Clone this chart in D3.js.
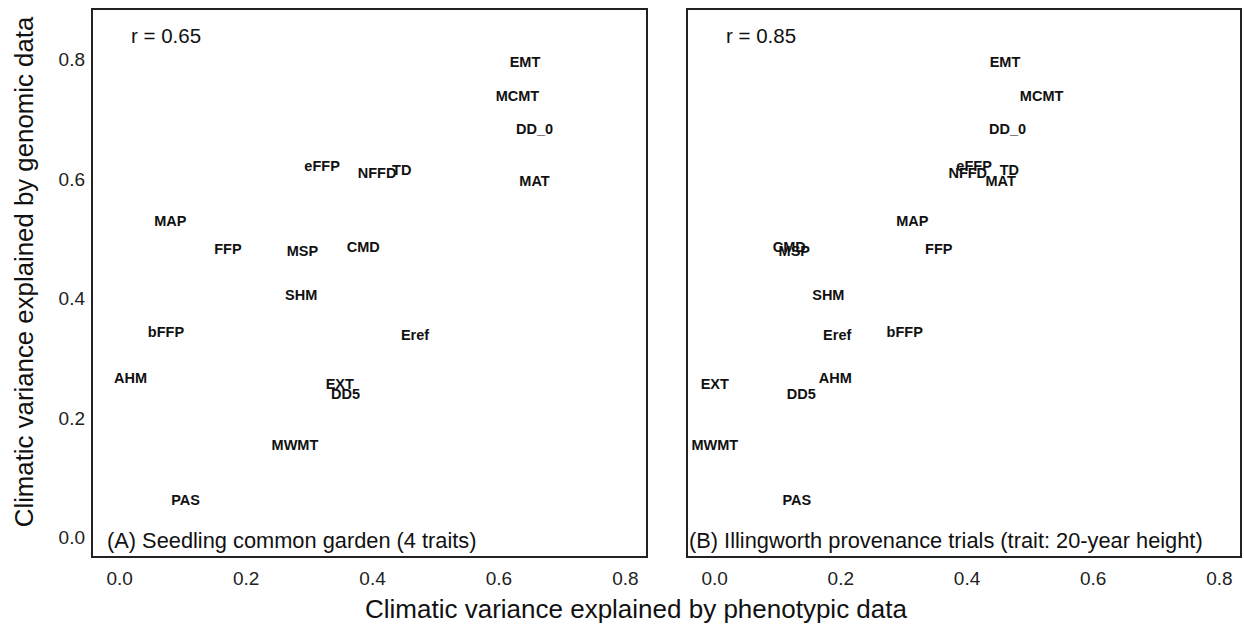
<!DOCTYPE html>
<html>
<head>
<meta charset="utf-8">
<script src="https://cdn.jsdelivr.net/npm/d3@7"></script>
<style>
  body { margin: 0; background: #fff; }
  svg text { font-family: "Liberation Sans", Arial, sans-serif; }
</style>
</head>
<body>
<svg id="chart" width="1244" height="628"></svg>
<script>
// Climate variables
const variables = ["EMT","MCMT","DD_0","MAT","eFFP","NFFD","TD","MAP","FFP","MSP","CMD","SHM","bFFP","Eref","AHM","EXT","DD5","MWMT","PAS"];
// Climatic variance explained by genomic data (shared by both panels)
const genomic = [0.797,0.739,0.685,0.598,0.623,0.610,0.616,0.531,0.484,0.480,0.486,0.406,0.344,0.339,0.267,0.257,0.241,0.156,0.063];
// Climatic variance explained by phenotypic data, panel A (seedling common garden)
const phenoA = [0.642,0.630,0.657,0.657,0.321,0.408,0.447,0.081,0.172,0.290,0.386,0.288,0.074,0.468,0.018,0.349,0.358,0.278,0.105];
// Panel B (Illingworth provenance trials)
const phenoB = [0.461,0.519,0.465,0.454,0.412,0.402,0.468,0.314,0.356,0.127,0.119,0.181,0.302,0.195,0.192,0.001,0.138,0.001,0.131];

const panelTitles = ["(A) Seedling common garden (4 traits)", "(B) Illingworth provenance trials (trait: 20-year height)"];
const rLabels = ["r = 0.65", "r = 0.85"];
const tickValues = [0.0, 0.2, 0.4, 0.6, 0.8];
const xTitle = "Climatic variance explained by phenotypic data";
const yTitle = "Climatic variance explained by genomic data";

const svg = d3.select("#chart");
const pTop = 9, pBottom = 557;
const panels = [
  {x0: 92, x1: 647, pheno: phenoA},
  {x0: 687, x1: 1241, pheno: phenoB}
];
const y = d3.scaleLinear().domain([-0.032, 0.885]).range([pBottom, pTop]);

panels.forEach((p, i) => {
  const x = d3.scaleLinear().domain([-0.043, 0.835]).range([p.x0, p.x1]);
  const g = svg.append("g");

  g.selectAll("text.pt")
    .data(variables.map((v, k) => ({v, px: p.pheno[k], gy: genomic[k]})))
    .join("text")
    .attr("class", "pt")
    .attr("x", d => x(d.px))
    .attr("y", d => y(d.gy))
    .attr("text-anchor", "middle")
    .attr("dominant-baseline", "central")
    .attr("font-weight", "bold")
    .attr("font-size", 14.5)
    .attr("fill", "#111")
    .text(d => d.v);

  g.append("text")
    .attr("x", p.x0 + 39)
    .attr("y", 35)
    .attr("dominant-baseline", "central")
    .attr("font-size", 20.5)
    .attr("fill", "#111")
    .text(rLabels[i]);

  g.append("text")
    .attr("x", p.x0 + 15 - (i ? 13 : 0))
    .attr("y", 540)
    .attr("dominant-baseline", "central")
    .attr("font-size", 21.8)
    .attr("fill", "#111")
    .text(panelTitles[i]);

  g.append("rect")
    .attr("x", p.x0).attr("y", pTop)
    .attr("width", p.x1 - p.x0).attr("height", pBottom - pTop)
    .attr("fill", "none").attr("stroke", "#222").attr("stroke-width", 2);

  const xa = d3.axisBottom(x).tickValues(tickValues).tickFormat(d3.format(".1f")).tickSize(0).tickPadding(0);
  const ax = svg.append("g").attr("transform", `translate(0,${pBottom})`).call(xa);
  ax.select(".domain").remove();
  ax.selectAll("text").attr("font-size", 19).attr("fill", "#222").attr("dy", null).attr("y", 28)
    .style("font-family", "'Liberation Sans', Arial, sans-serif");

  if (i === 0) {
    const ya = d3.axisLeft(y).tickValues(tickValues).tickFormat(d3.format(".1f")).tickSize(0).tickPadding(7);
    const ay = svg.append("g").attr("transform", `translate(${p.x0},0)`).call(ya);
    ay.select(".domain").remove();
    ay.selectAll("text").attr("font-size", 19).attr("fill", "#222")
      .style("font-family", "'Liberation Sans', Arial, sans-serif");
  }
});

svg.append("text")
  .attr("x", 636)
  .attr("y", 618)
  .attr("text-anchor", "middle")
  .attr("font-size", 26)
  .attr("fill", "#111")
  .text(xTitle);

svg.append("text")
  .attr("transform", `translate(33,272) rotate(-90)`)
  .attr("text-anchor", "middle")
  .attr("font-size", 25.8)
  .attr("fill", "#111")
  .text(yTitle);
</script>
</body>
</html>
